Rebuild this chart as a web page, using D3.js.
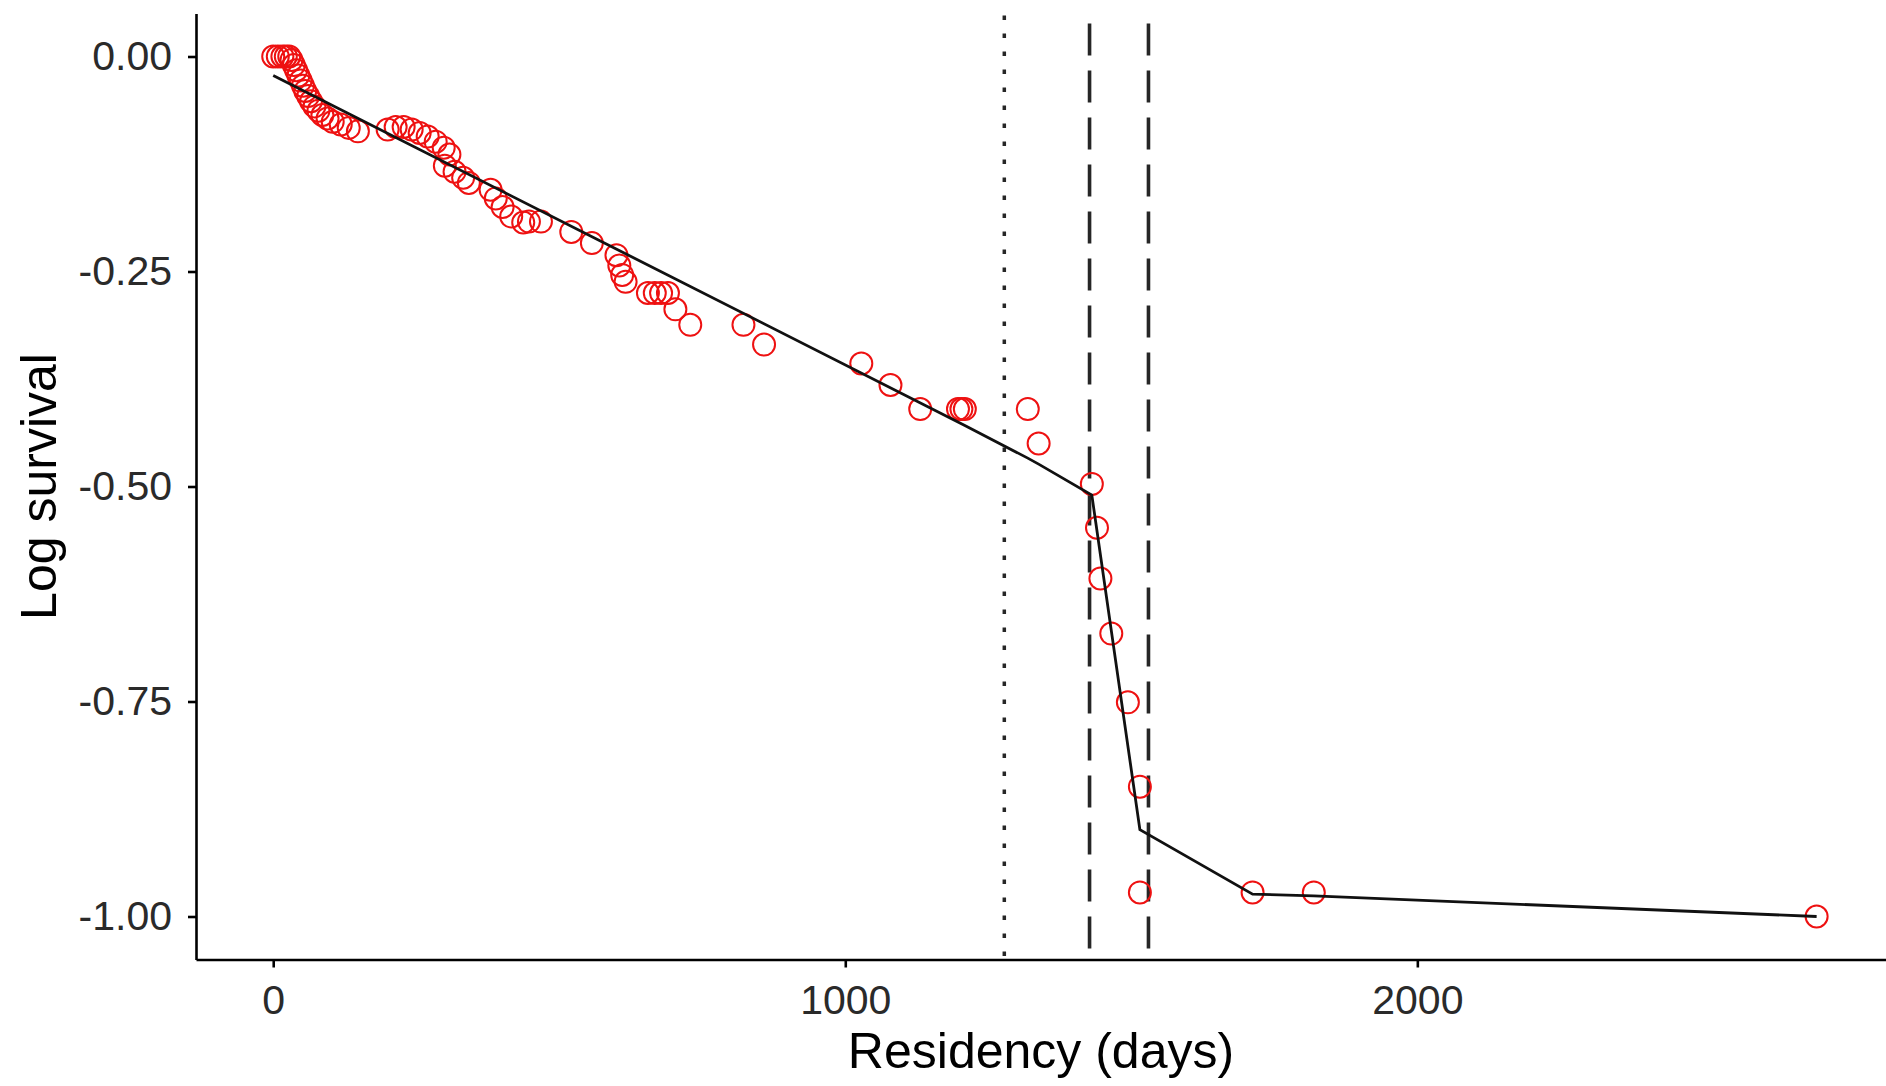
<!DOCTYPE html>
<html>
    <head>
        <title>Log survival vs residency</title>
        <script src="https://d3js.org/d3.v7.min.js"></script>
    </head>
    <body>
        <style>
            body {
                margin: 0;
                background: #fff;
                font-family: "Liberation Sans", Arial, sans-serif;
            }
            .axis text {
                font-family: "Liberation Sans", Arial, sans-serif;
                font-size: 41px;
                fill: #2a2a2a;
            }
            .axis path, .axis line {
                stroke: #000;
                stroke-width: 2.6px;
            }
            .title {
                font-size: 50px;
                fill: #000;
            }
        </style>
        <svg class="chart"></svg>
        <script>
            var svgWidth = 1886;
            var svgHeight = 1086;

            // observed points (days, log survival)
            var residency = [0, 8, 16, 22, 28,
                32, 36, 40, 44, 48, 52, 56, 61, 66, 72, 79, 86, 95, 104,
                118, 132, 148,
                200, 214, 228, 242, 256, 270, 284, 298, 308,
                300, 317, 332, 342,
                380, 389, 401, 416, 437, 447, 468,
                521, 557, 600, 605, 610, 616, 655, 667, 678, 690, 703, 729,
                822, 858, 1028, 1079, 1131, 1197, 1203, 1209, 1319, 1338,
                1431, 1440, 1446, 1465, 1494, 1515, 1515, 1712, 1819, 2698];
            var logSurv = [0, 0, 0, 0, 0,
                -0.004, -0.010, -0.016, -0.022, -0.028, -0.034, -0.040, -0.046, -0.052, -0.058, -0.063, -0.068, -0.072, -0.076,
                -0.079, -0.083, -0.087,
                -0.085, -0.082, -0.082, -0.085, -0.089, -0.093, -0.099, -0.106, -0.114,
                -0.127, -0.134, -0.141, -0.147,
                -0.155, -0.165, -0.175, -0.186, -0.193, -0.192, -0.192,
                -0.204, -0.217, -0.231, -0.243, -0.254, -0.262, -0.275, -0.275, -0.275, -0.275, -0.294, -0.312,
                -0.312, -0.335, -0.357, -0.382, -0.410, -0.410, -0.410, -0.410, -0.410, -0.450,
                -0.497, -0.548, -0.607, -0.671, -0.751, -0.849, -0.972, -0.972, -0.972, -1.000];

            // fitted piecewise line
            var fitDays = [0, 1209, 1319, 1338, 1431, 1515, 1712, 1819, 2698];
            var fitLog = [-0.022, -0.429, -0.467, -0.474, -0.510, -0.899, -0.974, -0.976, -1.000];

            // vertical reference lines
            var dottedBreaks = [1278];
            var dashedBreaks = [1427, 1530];

            var xTicks = [0, 1000, 2000];
            var yTicks = [0, -0.25, -0.50, -0.75, -1.00];

            var margin = {left: 196, top: 13.5, bottom: 959.5, right: 1895};

            var points = residency.map(function(d, i) { return {x: d, y: logSurv[i]}; });
            var fit = fitDays.map(function(d, i) { return {x: d, y: fitLog[i]}; });

            var xScale = d3.scaleLinear().domain([-135, 2835]).range([margin.left, margin.right]);
            var yScale = d3.scaleLinear().domain([0.05, -1.05]).range([margin.top, margin.bottom]);

            var chart = d3.select(".chart")
                        .attr("width", svgWidth)
                        .attr("height", svgHeight);

            // vlines
            chart.selectAll(".vdot")
                .data(dottedBreaks).enter().append("line")
                .attr("class", "vdot")
                .attr("x1", d => xScale(d)).attr("x2", d => xScale(d))
                .attr("y1", margin.top).attr("y2", margin.bottom)
                .attr("stroke", "#262626")
                .attr("stroke-width", 3.5)
                .attr("stroke-dasharray", "4.5,13.5")
                .attr("stroke-dashoffset", 16);

            chart.selectAll(".vdash")
                .data(dashedBreaks).enter().append("line")
                .attr("class", "vdash")
                .attr("x1", d => xScale(d)).attr("x2", d => xScale(d))
                .attr("y1", margin.top).attr("y2", margin.bottom)
                .attr("stroke", "#262626")
                .attr("stroke-width", 3.6)
                .attr("stroke-dasharray", "32,15")
                .attr("stroke-dashoffset", 37);

            // points
            chart.selectAll(".dot")
                .data(points).enter().append("circle")
                .attr("class", "dot")
                .attr("r", 11)
                .attr("cx", d => xScale(d.x))
                .attr("cy", d => yScale(d.y))
                .attr("fill", "none")
                .attr("stroke", "#ee1111")
                .attr("stroke-width", 2);

            // fitted line
            var line = d3.line().x(d => xScale(d.x)).y(d => yScale(d.y));
            chart.append("path")
                .datum(fit)
                .attr("d", line)
                .attr("fill", "none")
                .attr("stroke", "#111")
                .attr("stroke-width", 2.8);

            // axes
            var xAxis = d3.axisBottom(xScale).tickValues(xTicks).tickSize(8).tickSizeOuter(0).tickPadding(17)
                .tickFormat(d3.format("d"));
            var yAxis = d3.axisLeft(yScale).tickValues(yTicks).tickSize(8).tickSizeOuter(0).tickPadding(16)
                .tickFormat(d => d.toFixed(2));

            chart.append("g")
                .attr("class", "x axis")
                .attr("transform", "translate(0," + margin.bottom + ")")
                .call(xAxis);

            chart.append("g")
                .attr("class", "y axis")
                .attr("transform", "translate(" + margin.left + ",0)")
                .call(yAxis);

            // titles
            chart.append("text")
                .attr("class", "title")
                .attr("x", (margin.left + svgWidth) / 2)
                .attr("y", 1068)
                .attr("text-anchor", "middle")
                .text("Residency (days)");

            chart.append("text")
                .attr("class", "title")
                .attr("transform", "translate(56," + (margin.top + margin.bottom) / 2 + ") rotate(-90)")
                .attr("text-anchor", "middle")
                .text("Log survival");
        </script>
    </body>
</html>
